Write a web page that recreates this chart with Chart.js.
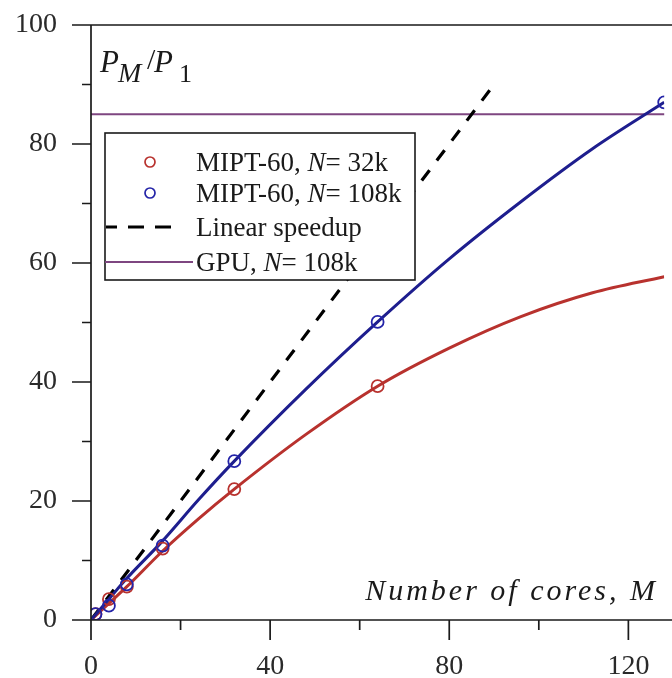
<!DOCTYPE html>
<html><head><meta charset="utf-8">
<script src="https://cdn.jsdelivr.net/npm/chart.js@4/dist/chart.umd.min.js"></script>
<style>html,body{margin:0;padding:0;background:#fff;overflow:hidden}#wrap{width:672px;height:678px}</style>
</head><body><div id="wrap"><canvas id="c" width="672" height="678"></canvas></div>
<script>
// ---- measured points (markers) ----
const coresRed = [1, 4, 8, 16, 32, 64];
const speedupRed = [1, 3.5, 5.6, 12, 22, 39.3];
const coresBlue = [1, 4, 8, 16, 32, 64, 128];
const speedupBlue = [1, 2.4, 6, 12.5, 26.7, 50.1, 87];
// ---- fitted curves ----
const fitCores = [0, 4, 8, 16, 24, 32, 48, 64, 80, 96, 112, 128];
const fitRed = [0, 2.8, 5.6, 11.6, 17, 22, 31.2, 39.3, 45.7, 51, 55, 57.7];
const fitBlue = [0, 3.5, 7, 13.3, 20.2, 26.7, 38.8, 50.1, 60.7, 70.3, 79.2, 87];
// ---- reference lines ----
const linearX = [0, 90];
const linearY = [0, 90];
const gpuX = [0, 140];
const gpuY = [85, 85];
const seriesNames = ['MIPT-60, N= 32k', 'MIPT-60, N= 108k', 'Linear speedup', 'GPU, N= 108k'];
const xMajorTicks = [0, 40, 80, 120];
const xMinorTicks = [20, 60, 100];
const yMajorTicks = [0, 20, 40, 60, 80, 100];
const yMinorTicks = [10, 30, 50, 70, 90];
const xTitle = 'Number of cores, M';
const yTitleParts = ['P', 'M', '/', 'P', '1'];

const pts = (xs, ys) => xs.map((x, i) => ({x: x, y: ys[i]}));
const SERIF = "'Liberation Serif', 'Times New Roman', serif";
const RED = '#b8322e', BLUE = '#1e1e8e', GPU = '#7e4680', AXIS = '#1a1a1a';
const RED_PT = '#b8322e', BLUE_PT = '#2424a8';

function drawMixed(ctx, str, x, y, size) {
  const idx = str.indexOf('N=');
  ctx.textAlign = 'left'; ctx.textBaseline = 'alphabetic';
  if (idx < 0) { ctx.font = size + 'px ' + SERIF; ctx.fillText(str, x, y); return; }
  const a = str.slice(0, idx), b = 'N', c = str.slice(idx + 1);
  ctx.font = size + 'px ' + SERIF; ctx.fillText(a, x, y); x += ctx.measureText(a).width;
  ctx.font = 'italic ' + size + 'px ' + SERIF; ctx.fillText(b, x, y); x += ctx.measureText(b).width;
  ctx.font = size + 'px ' + SERIF; ctx.fillText(c, x, y);
}

const frame = {
  id: 'frame',
  afterDatasetsDraw(chart) {
    const ctx = chart.ctx, x = chart.scales.x, y = chart.scales.y;
    const x0 = x.getPixelForValue(0), y0 = y.getPixelForValue(0), yTop = y.getPixelForValue(100);
    ctx.save();
    ctx.strokeStyle = AXIS; ctx.lineWidth = 1.7;
    ctx.beginPath();
    ctx.moveTo(x0 - 19, yTop); ctx.lineTo(chart.width, yTop);
    ctx.moveTo(x0 - 19, y0); ctx.lineTo(chart.width, y0);
    ctx.moveTo(x0, yTop); ctx.lineTo(x0, y0 + 20);
    yMajorTicks.forEach(v => { const p = y.getPixelForValue(v); ctx.moveTo(x0 - 19, p); ctx.lineTo(x0, p); });
    yMinorTicks.forEach(v => { const p = y.getPixelForValue(v); ctx.moveTo(x0 - 9, p); ctx.lineTo(x0, p); });
    xMajorTicks.forEach(v => { const p = x.getPixelForValue(v); ctx.moveTo(p, y0); ctx.lineTo(p, y0 + 20); });
    xMinorTicks.forEach(v => { const p = x.getPixelForValue(v); ctx.moveTo(p, y0); ctx.lineTo(p, y0 + 10); });
    ctx.stroke();

    // axis titles
    ctx.fillStyle = '#1a1a1a';
    ctx.textBaseline = 'alphabetic';
    ctx.font = 'italic 30px ' + SERIF;
    ctx.textAlign = 'right';
    try { ctx.letterSpacing = '3px'; } catch (e) {}
    ctx.fillText(xTitle, 658, 600);
    try { ctx.letterSpacing = '0px'; } catch (e) {}
    ctx.textAlign = 'left';
    ctx.font = 'italic 31px ' + SERIF; ctx.fillText(yTitleParts[0], 100, 72);
    ctx.font = 'italic 28px ' + SERIF; ctx.fillText(yTitleParts[1], 118, 82);
    ctx.font = '30px ' + SERIF; ctx.fillText(yTitleParts[2], 147, 69);
    ctx.font = 'italic 31px ' + SERIF; ctx.fillText(yTitleParts[3], 154, 72);
    ctx.font = '26px ' + SERIF; ctx.fillText(yTitleParts[4], 179, 82);

    // legend box
    const bx = 105, by = 133, bw = 310, bh = 147;
    ctx.fillStyle = '#fff';
    ctx.fillRect(bx, by, bw, bh);
    ctx.strokeStyle = AXIS; ctx.lineWidth = 1.6;
    ctx.strokeRect(bx, by, bw, bh);
    const rows = [162, 193, 227, 262];
    const tx = 196;
    [RED_PT, BLUE_PT].forEach((c, i) => {
      ctx.beginPath(); ctx.arc(150, rows[i], 5, 0, Math.PI * 2);
      ctx.strokeStyle = c; ctx.lineWidth = 1.7; ctx.stroke();
    });
    ctx.save();
    ctx.beginPath(); ctx.rect(bx + 1, by, bw, bh); ctx.clip();
    ctx.strokeStyle = '#000'; ctx.lineWidth = 3.2;
    ctx.setLineDash([16, 11]); ctx.lineDashOffset = 4;
    ctx.beginPath(); ctx.moveTo(bx, rows[2]); ctx.lineTo(179, rows[2]); ctx.stroke();
    ctx.restore();
    ctx.strokeStyle = GPU; ctx.lineWidth = 1.8;
    ctx.beginPath(); ctx.moveTo(bx, rows[3]); ctx.lineTo(193, rows[3]); ctx.stroke();
    ctx.fillStyle = '#1a1a1a';
    seriesNames.forEach((s, i) => drawMixed(ctx, s, tx, rows[i] + 9, 27));
    ctx.restore();
  }
};

new Chart(document.getElementById('c'), {
  type: 'scatter',
  data: {
    datasets: [
      { label: seriesNames[0] + ' points', data: pts(coresRed, speedupRed), showLine: false,
        pointRadius: 6, pointBorderWidth: 1.8, pointBorderColor: RED_PT,
        pointBackgroundColor: 'rgba(0,0,0,0)', order: 1 },
      { label: seriesNames[1] + ' points', data: pts(coresBlue, speedupBlue), showLine: false,
        pointRadius: 6, pointBorderWidth: 1.8, pointBorderColor: BLUE_PT,
        pointBackgroundColor: 'rgba(0,0,0,0)', order: 0 },
      { label: seriesNames[0], data: pts(fitCores, fitRed), showLine: true,
        borderColor: RED, borderWidth: 3, pointRadius: 0, cubicInterpolationMode: 'monotone', order: 3 },
      { label: seriesNames[1], data: pts(fitCores, fitBlue), showLine: true,
        borderColor: BLUE, borderWidth: 3, pointRadius: 0, cubicInterpolationMode: 'monotone', order: 2 },
      { label: seriesNames[2], data: pts(linearX, linearY), showLine: true,
        borderColor: '#000', borderWidth: 3.2, borderDash: [13, 12], pointRadius: 0, order: 4 },
      { label: seriesNames[3], data: pts(gpuX, gpuY), showLine: true,
        borderColor: GPU, borderWidth: 1.8, pointRadius: 0, order: 5 }
    ]
  },
  options: {
    responsive: false, devicePixelRatio: 1, animation: false,
    layout: { padding: { top: 25, right: 0, left: 0, bottom: 0 } },
    plugins: { legend: { display: false }, tooltip: { enabled: false } },
    scales: {
      x: {
        type: 'linear', min: 0, max: 128,
        grid: { display: false, drawTicks: false }, border: { display: false },
        afterFit: s => { s.height = 58; s.paddingLeft = 0; s.paddingRight = 0; },
        ticks: { stepSize: 20, includeBounds: false, autoSkip: false, maxRotation: 0, padding: 30,
          callback: v => xMajorTicks.includes(v) ? String(v) : '',
          font: { family: SERIF, size: 28 }, color: '#2a2a2a' }
      },
      y: {
        min: 0, max: 100,
        grid: { display: false, drawTicks: false }, border: { display: false },
        afterFit: s => { s.width = 91; s.paddingTop = 0; s.paddingBottom = 0; },
        ticks: { stepSize: 20, autoSkip: false, padding: 34,
          callback: v => yMajorTicks.includes(v) ? String(v) : '',
          font: { family: SERIF, size: 28 }, color: '#2a2a2a' }
      }
    }
  },
  plugins: [frame]
});
</script>
</body></html>
